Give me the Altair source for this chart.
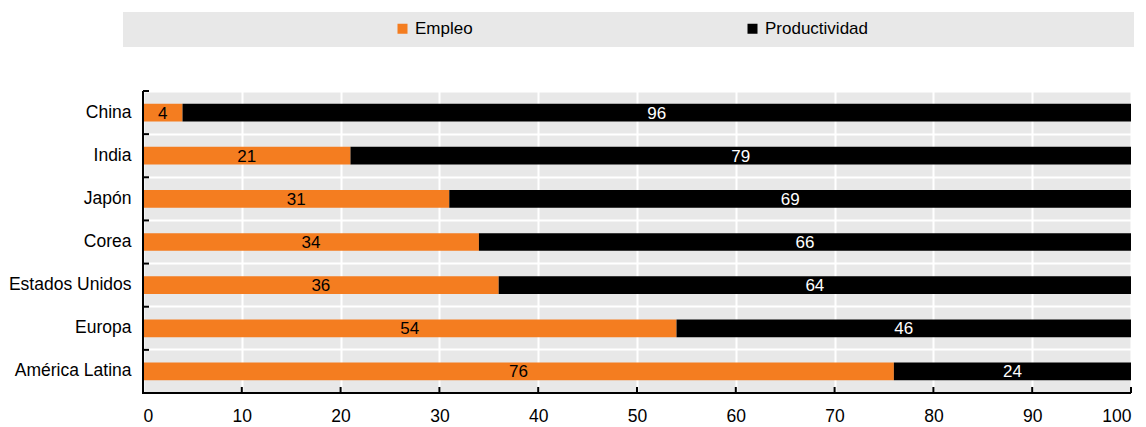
import altair as alt
import pandas as pd

countries = ["China", "India", "Japón", "Corea", "Estados Unidos", "Europa", "América Latina"]
empleo = [4, 21, 31, 34, 36, 54, 76]
productividad = [96, 79, 69, 66, 64, 46, 24]
series = ["Empleo", "Productividad"]
colors = ["#f47d20", "#000000"]
label_colors = ["#000000", "#ffffff"]
x_ticks = [0, 10, 20, 30, 40, 50, 60, 70, 80, 90, 100]

FONT = "Liberation Sans"
FS = 17

rows = []
for c, e, p in zip(countries, empleo, productividad):
    rows.append({"pais": c, "serie": series[0], "valor": e, "start": 0, "end": e,
                 "mid": e / 2, "lcol": label_colors[0]})
    rows.append({"pais": c, "serie": series[1], "valor": p, "start": e, "end": e + p,
                 "mid": e + p / 2, "lcol": label_colors[1]})
df = pd.DataFrame(rows)

ydom = alt.Scale(domain=countries, paddingInner=0, paddingOuter=0)
xscale = alt.Scale(domain=[0, 100], nice=False)

band = alt.Chart(pd.DataFrame({"d": [0]})).mark_rect(color="#e8e8e8").encode(
    x=alt.value(-20), x2=alt.value(991), y=alt.value(-79), y2=alt.value(-44)
)

bars = alt.Chart(df).mark_bar(height={"band": 0.41}).encode(
    y=alt.Y("pais:N", scale=ydom, sort=countries, title=None,
            axis=alt.Axis(grid=True, bandPosition=0, gridColor="white", gridWidth=2,
                          ticks=False, domain=False,
                          labelPadding=12, labelFontSize=17.5, labelFont=FONT,
                          labelColor="black", zindex=0)),
    x=alt.X("start:Q", scale=xscale, title=None,
            axis=alt.Axis(values=x_ticks, grid=True, gridColor="white", gridWidth=2,
                          ticks=False, domain=False,
                          labelPadding=14, labelFontSize=17.5, labelFont=FONT,
                          labelColor="black", zindex=0)),
    x2="end:Q",
    color=alt.Color("serie:N", scale=alt.Scale(domain=series, range=colors),
                    legend=alt.Legend(title=None, orient="none", direction="horizontal",
                                      legendX=251, legendY=-71, symbolType="square",
                                      symbolSize=100, symbolStrokeWidth=0,
                                      labelFont=FONT, labelFontSize=FS, labelColor="black",
                                      labelOffset=4, columnPadding=271)),
)

labels = alt.Chart(df).mark_text(font=FONT, fontSize=FS, baseline="middle", align="center", dy=1).encode(
    y=alt.Y("pais:N", scale=ydom, sort=countries),
    x=alt.X("mid:Q", scale=xscale),
    text=alt.Text("valor:Q"),
    color=alt.Color("lcol:N", scale=None),
)

ytick = alt.Chart(pd.DataFrame({"pais": countries})).mark_rule(color="black", strokeWidth=2).encode(
    y=alt.Y("pais:N", scale=ydom, sort=countries, bandPosition=0),
    x=alt.value(0), x2=alt.value(6),
)

xtick = alt.Chart(pd.DataFrame({"t": x_ticks})).mark_rule(color="black", strokeWidth=2).encode(
    x=alt.X("t:Q", scale=xscale),
    y=alt.value(302), y2=alt.value(296),
)

yline = alt.Chart(pd.DataFrame({"d": [0]})).mark_rule(color="black", strokeWidth=2).encode(
    x=alt.value(0), y=alt.value(0), y2=alt.value(303),
)
xline = alt.Chart(pd.DataFrame({"d": [0]})).mark_rule(color="black", strokeWidth=2).encode(
    x=alt.value(-1), x2=alt.value(988), y=alt.value(302),
)

chart = alt.layer(band, bars, labels, ytick, xtick, yline, xline).properties(
    width=988, height=302,
    autosize=alt.AutoSizeParams(type="none"),
    padding={"left": 143, "top": 91, "right": 15, "bottom": 34},
).configure_view(fill="#e8e8e8", stroke=None)

chart.save("out.html", embed_options={"renderer": "svg", "actions": False})
